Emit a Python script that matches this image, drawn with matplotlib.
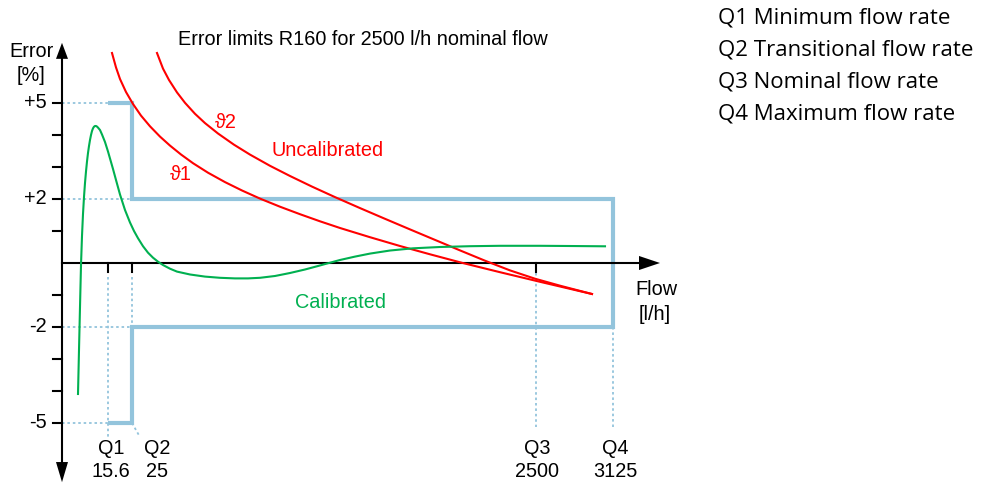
import matplotlib
matplotlib.use("Agg")
import matplotlib.pyplot as plt
from matplotlib.patches import Polygon

# ---- schematic data -------------------------------------------------------
# flow-axis positions of the characteristic flow rates (schematic, not to scale)
q_names = ["Q1", "Q2", "Q3", "Q4"]
q_values = ["15.6", "25", "2500", "3125"]
q_pos = [46, 70, 474, 551]

# error limits [%]
upper_low, upper_high = 5, 2
lower_low, lower_high = -5, -2
error_ticks = [-5, -4, -3, -2, -1, 1, 2, 3, 4, 5]
error_labels = {5: "+5", 2: "+2", -2: "-2", -5: "-5"}

# calibrated meter error curve
cal_x = [16, 17, 18, 19, 20, 21, 22, 23, 24, 25, 26, 27, 28, 29, 30, 31, 32,
         33, 34, 35, 36, 38, 40, 43, 46, 48, 51, 54, 58, 63, 68, 72, 76, 81,
         86, 91, 96, 101, 108, 115, 128, 143, 158, 173, 186, 198, 213, 228,
         243, 256, 265, 278, 293, 308, 328, 351, 378, 408, 438, 478, 508, 543]
cal_err = [-4.094, -2.719, -1.375, -0.063, 0.844, 1.531, 2.063, 2.5, 2.859,
           3.172, 3.438, 3.656, 3.844, 4.0, 4.125, 4.209, 4.259, 4.281, 4.281,
           4.263, 4.231, 4.156, 4.016, 3.781, 3.484, 3.266, 2.938, 2.594,
           2.141, 1.656, 1.266, 1.0, 0.775, 0.525, 0.322, 0.166, 0.041,
           -0.063, -0.178, -0.269, -0.359, -0.425, -0.4625, -0.481, -0.481,
           -0.4625, -0.406, -0.3125, -0.203, -0.094, -0.016, 0.094, 0.2,
           0.294, 0.39, 0.459, 0.5, 0.525, 0.5375, 0.5375, 0.531, 0.522]

# uncalibrated error curves at two temperatures
t1_x = [50, 54, 58, 64, 71, 79, 88, 98, 108, 119, 131, 146, 163, 180, 198,
        218, 238, 258, 278, 308, 338, 368, 400, 438, 478, 530]
t1_err = [6.5625, 6.1125, 5.75, 5.344, 4.969, 4.606, 4.272, 3.95, 3.669,
          3.391, 3.119, 2.822, 2.528, 2.266, 2.0125, 1.759, 1.525, 1.303,
          1.094, 0.806, 0.531, 0.272, 0.006, -0.2875, -0.5875, -0.969]
t2_x = [95, 101, 107, 115, 123, 133, 143, 156, 172, 188, 208, 228, 250, 273,
        298, 323, 348, 373, 398, 423, 448, 473, 498, 530]
t2_err = [6.5625, 6.075, 5.719, 5.331, 5.006, 4.6625, 4.372, 4.047, 3.697,
          3.3875, 3.0375, 2.719, 2.3875, 2.059, 1.716, 1.381, 1.05, 0.722,
          0.394, 0.072, -0.231, -0.491, -0.709, -0.969]

legend_lines = ["Q1 Minimum flow rate", "Q2 Transitional flow rate",
                "Q3 Nominal flow rate", "Q4 Maximum flow rate"]

# ---- styling ----------------------------------------------------------------
BLUE = "#93c4dc"
RED = "#ff0000"
GREEN = "#00b050"
FONT = ["Liberation Sans", "DejaVu Sans"]
FS = 14.3
dotted = dict(color=BLUE, lw=1.3, linestyle=(0, (1.4, 1.6)))

fig = plt.figure(figsize=(9.89, 4.84), dpi=100)
ax = fig.add_axes([0, 0, 1, 1])
ax.set_xlim(-62, 927)
ax.set_ylim(-221 / 32, 263 / 32)
ax.axis("off")

q1, q2, q3, q4 = q_pos

# dotted guide lines
ax.plot([0, q1], [upper_low, upper_low], **dotted)
ax.plot([0, q2], [upper_high, upper_high], **dotted)
ax.plot([0, q2], [lower_high, lower_high], **dotted)
ax.plot([0, q1], [lower_low, lower_low], **dotted)
ax.plot([q1, q1], [-0.45, -5.44], **dotted)
ax.plot([q2, q2], [-0.45, lower_high], **dotted)
ax.plot([q2, q2 + 8], [lower_low, -5.44], **dotted)
ax.plot([q3, q3], [-0.3, -5.13], **dotted)
ax.plot([q4, q4], [lower_high, -5.13], **dotted)

# error limit envelope
env_x = [q1, q2, q2, q4, q4, q2, q2, q1]
env_y = [upper_low, upper_low, upper_high, upper_high, lower_high, lower_high,
         lower_low, lower_low]
ax.plot(env_x, env_y, color=BLUE, lw=3.0, solid_joinstyle="miter",
        solid_capstyle="butt")

# axes with arrow heads
ax.plot([0, 0], [6.45, -6.25], color="black", lw=1.5)
ax.plot([0, 580], [0, 0], color="black", lw=1.5)
ax.add_patch(Polygon([[0, 6.88], [-6, 6.38], [6, 6.38]], closed=True,
                     color="black", lw=0))
ax.add_patch(Polygon([[0, -6.85], [-6, -6.22], [6, -6.22]], closed=True,
                     color="black", lw=0))
ax.add_patch(Polygon([[598, 0], [577, 0.22], [577, -0.22]], closed=True,
                     color="black", lw=0))

# ticks
for t in error_ticks:
    ax.plot([-9, 0], [t, t], color="black", lw=1.5)
for xq in (q1, q2, q3):
    ax.plot([xq, xq], [0, -0.28], color="black", lw=1.5)

# curves
ax.plot(t1_x, t1_err, color=RED, lw=1.5, solid_joinstyle="round")
ax.plot(t2_x, t2_err, color=RED, lw=1.5, solid_joinstyle="round")
ax.plot(cal_x, cal_err, color=GREEN, lw=1.5, solid_joinstyle="round")

# text
txt = dict(family=FONT, fontsize=FS)
for t, lab in error_labels.items():
    ax.text(-15, t, lab, ha="right", va="center", **txt)
ax.text(-31, 6.6, "Error", ha="center", va="center", **txt)
ax.text(-31, 5.85, "[%]", ha="center", va="center", **txt)
ax.text(594, -0.84, "Flow", ha="center", va="center", **txt)
ax.text(593, -1.6, "[l/h]", ha="center", va="center", **txt)
q_label_x = [q1 + 3, q2 + 25, q3 + 1, q4 + 2]
for xq, name, val in zip(q_label_x, q_names, q_values):
    ax.text(xq, -5.8, name, ha="center", va="center", **txt)
    ax.text(xq, -6.53, val, ha="center", va="center", **txt)

ax.text(116, 6.98, "Error limits R160 for 2500 l/h nominal flow", ha="left",
        va="center", **txt)
ax.text(266, 3.53, "Uncalibrated", ha="center", va="center", color=RED, **txt)
ax.text(164, 4.4, "ϑ2", ha="center", va="center", color=RED, **txt)
ax.text(119, 2.75, "ϑ1", ha="center", va="center", color=RED, **txt)
ax.text(278, -1.22, "Calibrated", ha="center", va="center", color=GREEN, **txt)

leg_y = [7.66, 6.66, 5.66, 4.66]
for y, line in zip(leg_y, legend_lines):
    ax.text(656, y, line, ha="left", va="center",
            family=["Open Sans", "DejaVu Sans"], fontsize=16)

fig.savefig("out.png", dpi=100)
